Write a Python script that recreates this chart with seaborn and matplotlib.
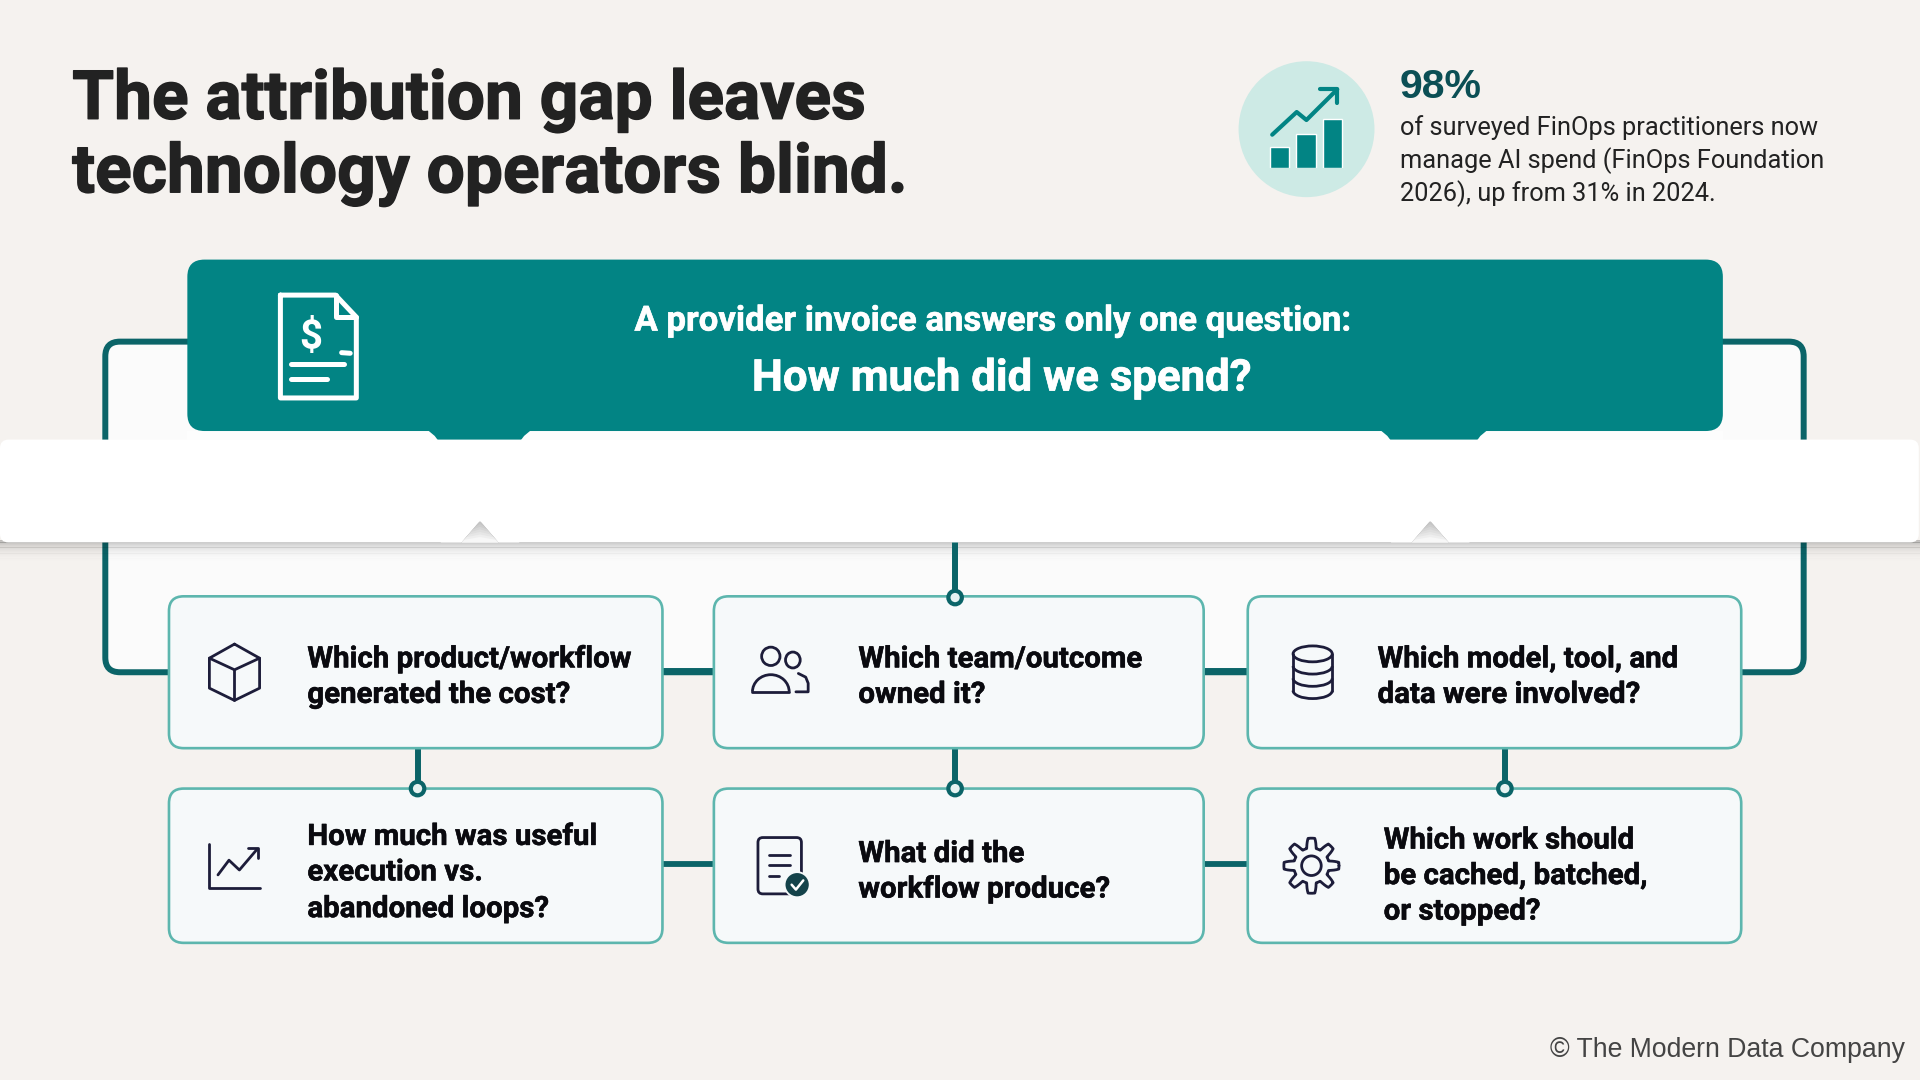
import numpy as np
import matplotlib
matplotlib.use("Agg")
import matplotlib.pyplot as plt
import matplotlib.patheffects as pe
import seaborn as sns
from matplotlib.patches import FancyBboxPatch, Polygon, Circle, Ellipse, Rectangle, Arc

# text
title_lines = ["The attribution gap leaves", "technology operators blind."]
stat_value = "98%"
stat_lines = ["of surveyed FinOps practitioners now",
              "manage AI spend (FinOps Foundation",
              "2026), up from 31% in 2024."]
header_top = "A provider invoice answers only one question:"
header_main = "How much did we spend?"
copyright_text = "© The Modern Data Company"
card_text = [["Which product/workflow", "generated the cost?"],
             ["Which team/outcome", "owned it?"],
             ["Which model, tool, and", "data were involved?"],
             ["How much was useful", "execution vs.", "abandoned loops?"],
             ["What did the", "workflow produce?"],
             ["Which work should", "be cached, batched,", "or stopped?"]]

# small chart inside the badge
icon_bar_labels = ["a", "b", "c"]
icon_bar_values = [17, 27.5, 40]
icon_trend_x = [-0.28, 0.65, 1.02, 2.19]
icon_trend_y = [27, 45.5, 39, 64]

BG = "#F5F2EF"
TEAL = "#028484"
DARK = "#0B6468"
CARD_EDGE = "#5DB6AE"
CARD_FILL = "#F6F9FA"
INK = "#1D1D3A"

sns.set_theme(style="white")
plt.rcParams["font.family"] = ["Roboto", "DejaVu Sans"]

fig = plt.figure(figsize=(19.2, 10.8), dpi=100, facecolor=BG)
ax = fig.add_axes([0, 0, 1, 1])
ax.set_xlim(0, 1568)
ax.set_ylim(882, 0)
ax.axis("off")


def round_box(x0, y0, x1, y1, r, fc, ec="none", lw=0, z=1):
    p = FancyBboxPatch((x0, y0), x1 - x0, y1 - y0,
                       boxstyle=f"round,pad=0,rounding_size={r}",
                       fc=fc, ec=ec, lw=lw, zorder=z)
    ax.add_patch(p)


def stroke(xs, ys, color=INK, lw=2.0, z=8):
    ax.plot(xs, ys, color=color, lw=lw, zorder=z, solid_capstyle="round",
            solid_joinstyle="round")


def ring(x, y):
    ax.add_patch(Circle((x, y), 5.5, fc="#E6F2F1", ec=DARK, lw=3, zorder=7))


def heavy(txt, color, width=0.7):
    txt.set_path_effects([pe.withStroke(linewidth=width, foreground=color)])


# outer panel
round_box(86, 279, 1473, 549, 12, "#FBFBFB", DARK, 4.3, 1)

# header
round_box(153, 212, 1407, 352, 14, TEAL, z=4)
ax.add_patch(Rectangle((153, 352), 1254, 8, fc="#FDFDFD", ec="none", zorder=3))
for left, right in [(349, 434), (1127, 1215)]:
    ax.add_patch(Polygon([(left, 351), (right, 351), (right - 6, 356), (right - 9, 360),
                          (left + 9, 360), (left + 6, 356)], fc=TEAL, ec="none", zorder=4))

# white band and its shadow
for i in range(20):
    ax.add_patch(Rectangle((0, 441 + i), 1568, 1.2, fc="black", ec="none",
                           alpha=0.22 * (1 - i / 20) ** 2.6, zorder=5))
round_box(0, 359, 1567, 443, 7, "white", z=6)
for cx in [392, 1168]:
    for i in range(8):
        shade = 0.74 + 0.26 * i / 8
        ax.add_patch(Polygon([(cx - 14 * (0.12 * i + 0.04), 426 + 2.1 * i), (cx, 426 + 2.1 * i - 2.1 * (i > 0)),
                              (cx + 14 * (0.12 * i + 0.04), 426 + 2.1 * i), (cx + 15, 443), (cx - 15, 443)],
                             fc=str(shade), ec="none", zorder=6.2))
    ax.add_patch(Polygon([(cx - 32, 443), (cx - 15, 443), (cx, 426), (cx - 32, 426)],
                         fc="white", ec="none", zorder=6.1))
    ax.add_patch(Polygon([(cx + 32, 443), (cx + 15, 443), (cx, 426), (cx + 32, 426)],
                         fc="white", ec="none", zorder=6.1))

# connectors
stroke([780, 780], [443, 488], DARK, 4.3, 5.5)
for x in [341, 780, 1229]:
    stroke([x, x], [611, 644], DARK, 4.3, 2)
for x0, x1 in [(541, 583), (983, 1019)]:
    ax.plot([x0, x1], [548, 548], color=DARK, lw=5, zorder=2, solid_capstyle="butt")
    ax.plot([x0, x1], [706, 706], color=DARK, lw=4.2, zorder=2, solid_capstyle="butt")

# cards
card_x = [(138, 541), (583, 983), (1019, 1422)]
card_y = [(487, 611), (644, 770)]
for y0, y1 in card_y:
    for x0, x1 in card_x:
        round_box(x0, y0, x1, y1, 12, CARD_FILL, CARD_EDGE, 1.9, 3)
for x, y in [(780, 488), (341, 644), (780, 644), (1229, 644)]:
    ring(x, y)

text_x = [251, 701, 1125, 251, 701, 1130]
text_y = [[545, 574], [545, 574], [545, 574], [690, 719, 749], [704, 733], [693, 722, 751]]
for lines, x, ys in zip(card_text, text_x, text_y):
    for line, y in zip(lines, ys):
        t = ax.text(x, y, line, fontsize=21.2, fontweight="bold", color="#0A0A0F",
                    va="baseline", ha="left", zorder=9)
        heavy(t, "#0A0A0F", 0.4)

# title and stat
for line, y in zip(title_lines, [97, 157]):
    t = ax.text(59, y, line, fontsize=48.7, fontweight="bold", color="#222222", va="baseline", ha="left")
    heavy(t, "#222222", 1.0)
ax.text(1143, 80, stat_value, fontsize=29.5, fontweight="bold", color="#0B4F55", va="baseline",
        family=["Liberation Sans", "DejaVu Sans"])
for line, y in zip(stat_lines, [110, 137, 164]):
    ax.text(1143, y, line, fontsize=18.3, color="#222222", va="baseline")
t = ax.text(811, 270, header_top, fontsize=25, fontweight="bold", color="white", ha="center", va="baseline", zorder=9)
heavy(t, "white", 0.4)
t = ax.text(818, 319, header_main, fontsize=31.5, fontweight="bold", color="white", ha="center", va="baseline", zorder=9)
heavy(t, "white", 0.5)
ax.text(1556, 863, copyright_text, fontsize=19.2, color="#444444", ha="right", va="baseline",
        family=["Liberation Sans", "DejaVu Sans"])

# invoice icon
stroke([229, 274, 291, 291, 229, 229], [241, 241, 259, 325, 325, 241], "white", 3.6, 8)
stroke([274, 274, 291], [241, 259, 259], "white", 3.6, 8)
stroke([238, 281], [297.5, 297.5], "white", 3.6, 8)
stroke([238, 267], [309.5, 309.5], "white", 3.6, 8)
stroke([279, 286], [288, 288.5], "white", 3.6, 8)
ax.text(254, 285, "$", fontsize=29, fontweight="bold", color="white", ha="center", va="baseline", zorder=9)

# badge with a small seaborn chart
ax.add_patch(Ellipse((1067, 105.5), 111, 111, fc="#CDEAE5", ec="none", zorder=1))
inset = fig.add_axes([1034.25 / 1568, 1 - 137 / 882, 64.5 / 1568, 70 / 882])
inset.patch.set_alpha(0)
sns.barplot(x=icon_bar_labels, y=icon_bar_values, color=TEAL, width=0.74, saturation=1, ax=inset)
sns.lineplot(x=icon_trend_x, y=icon_trend_y, sort=False, color=TEAL, lw=3, ax=inset, errorbar=None)
inset.set_xlim(-0.5, 2.5)
inset.set_ylim(0, 70)
inset.axis("off")
stroke([1078, 1092, 1092], [73, 73, 84], TEAL, 3, 8)

# cube icon
stroke([191.5, 212, 212, 191.5, 171, 171, 191.5], [526, 537.5, 562, 572, 562, 537.5, 526])
stroke([171, 191.5, 212], [537.5, 547, 537.5])
stroke([191.5, 191.5], [547, 572])

# people icon
ax.add_patch(Ellipse((629.5, 536), 15, 15, fc="none", ec=INK, lw=2, zorder=8))
ax.add_patch(Ellipse((647.5, 539), 12, 13, fc="none", ec=INK, lw=2, zorder=8))
ax.add_patch(Arc((629.5, 565), 30, 28, theta1=180, theta2=360, ec=INK, lw=2, zorder=8))
stroke([614.5, 644.5], [565, 565])
stroke([652, 658, 660, 660, 650], [550, 553, 558, 565, 565])

# line chart icon
stroke([171, 171, 212], [689, 725.5, 725.5])
stroke([178, 187, 195.5, 210], [714.5, 702.5, 710.5, 693.5])
stroke([202.5, 211, 211], [692.5, 692.5, 700.5])

# report icon
round_box(619, 684, 654.5, 730, 4, "none", INK, 2, 8)
stroke([628, 645], [698, 698])
stroke([628, 645], [706.5, 706.5])
stroke([628, 636], [715.5, 715.5])
ax.add_patch(Circle((651, 722.5), 11, fc=CARD_FILL, ec="none", zorder=8.5))
ax.add_patch(Circle((651, 722.5), 9.5, fc="#14434A", ec="none", zorder=8.6))
stroke([646.5, 650, 656], [722.5, 726.5, 719], "white", 1.8, 8.7)

# database icon
ax.add_patch(Ellipse((1072, 534), 32, 13, fc="none", ec=INK, lw=2, zorder=8))
stroke([1056, 1056], [534, 564])
stroke([1088, 1088], [534, 564])
for yc in [544, 554, 564]:
    ax.add_patch(Arc((1072, yc), 32, 13, theta1=0, theta2=180, ec=INK, lw=2, zorder=8))

# gear icon
a = np.linspace(0, 2 * np.pi, 361)
r = 18.5 + 4 * np.clip(1.8 * np.cos(8 * (a + np.pi / 2)), -1, 1)
stroke(1071 + r * np.cos(a), 707 + r * np.sin(a))
ax.add_patch(Circle((1071, 707), 8, fc="none", ec=INK, lw=2, zorder=8))

fig.savefig("out.png", dpi=100, facecolor=BG)
